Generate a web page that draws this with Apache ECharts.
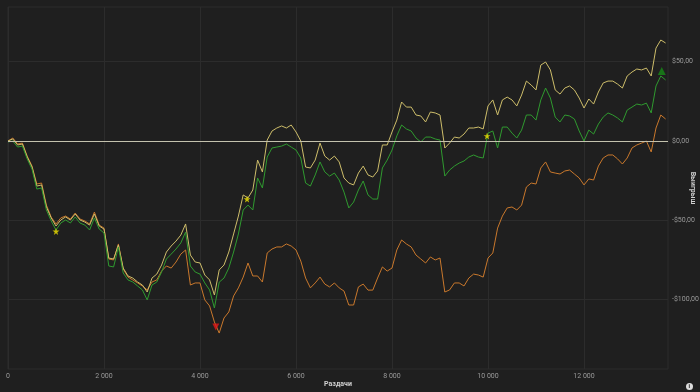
<!DOCTYPE html>
<html><head><meta charset="utf-8">
<script src="https://cdn.jsdelivr.net/npm/echarts@6/dist/echarts.min.js"></script>
<style>html,body{margin:0;padding:0;background:#1f1f1f;}#c{width:700px;height:392px;}</style>
</head><body><div id="c"></div>
<script>
const hands = [0,100,200,300,400,500,600,700,800,900,1000,1100,1200,1300,1400,1500,1600,1700,1800,1900,
2000,2100,2200,2300,2400,2500,2600,2700,2800,2900,3000,3100,3200,3300,3400,3500,3600,3700,3800,3900,
4000,4100,4200,4300,4400,4500,4600,4700,4800,4900,5000,5100,5200,5300,5400,5500,5600,5700,5800,5900,
6000,6100,6200,6300,6400,6500,6600,6700,6800,6900,7000,7100,7200,7300,7400,7500,7600,7700,7800,7900,
8000,8100,8200,8300,8400,8500,8600,8700,8800,8900,9000,9100,9200,9300,9400,9500,9600,9700,9800,9900,
10000,10100,10200,10300,10400,10500,10600,10700,10800,10900,11000,11100,11200,11300,11400,11500,11600,11700,11800,11900,
12000,12100,12200,12300,12400,12500,12600,12700,12800,12900,13000,13100,13200,13300,13400,13500,13600,13700];

// all-in EV adjusted (khaki)
const evWinnings = [0,1.3,-2.5,-1.9,-10.1,-16.4,-28.4,-27.7,-41.6,-48.5,-53.6,-49.8,-47.9,-49.8,-46.0,-49.8,-51.1,-53.0,-46.0,-53.6,
-55.5,-73.8,-74.4,-65.6,-80.1,-85.1,-86.4,-88.9,-90.8,-95.2,-86.4,-83.9,-78.2,-70.0,-66.2,-63.1,-59.3,-52.3,-71.9,-76.3,
-76.9,-84.5,-87.6,-97.1,-81.3,-78.2,-70.0,-58.6,-47.3,-34.0,-35.9,-30.9,-12.0,-19.5,0.6,6.3,8.2,9.5,8.2,10.1,
5.7,0,-16.4,-17.0,-12.0,-1.3,-9.5,-12.0,-9.5,-13.2,-23.3,-26.5,-27.7,-20.2,-15.8,-21.4,-22.7,-18.9,-2.5,-2.5,
5.7,13.2,24.6,21.4,21.4,16.4,15.8,12.0,18.3,17.7,16.4,-4.4,-1.3,2.5,1.9,4.4,8.2,8.2,8.8,7.6,
22.1,25.9,16.4,25.9,27.7,25.9,22.1,29.0,37.8,35.3,32.2,47.9,49.8,44.8,32.2,29.6,33.4,34.7,32.2,27.1,
20.8,26.5,23.3,30.9,36.6,37.8,37.8,35.9,33.4,41.0,43.5,45.4,44.8,46.0,41.0,58.6,63.7,61.8];

// net won (green)
const netWinnings = [-0.6,0,-3.8,-3.2,-11.3,-17.7,-30.3,-29.6,-43.5,-50.4,-56.1,-51.7,-49.8,-51.7,-47.9,-51.7,-53.0,-56.1,-48.5,-55.5,
-58.0,-78.8,-79.4,-66.8,-83.2,-87.6,-88.9,-91.4,-93.9,-100.2,-90.8,-88.9,-82.6,-74.4,-71.3,-68.1,-64.3,-57.4,-78.8,-82.6,
-83.9,-89.5,-93.9,-105.3,-89.0,-86.4,-80.1,-70.0,-58.6,-43.5,-40.4,-43.5,-23.3,-29.6,-10.1,-4.4,-3.8,-3.2,-1.9,-3.8,
-5.7,-10.7,-26.5,-28.4,-21.4,-13.2,-19.5,-22.1,-20.2,-24.6,-32.2,-42.2,-38.5,-30.9,-25.2,-34.0,-36.6,-36.6,-17.0,-12.0,
-5.7,3.2,10.1,7.6,6.3,1.9,-0.6,2.5,2.5,1.3,0.6,-22.1,-18.3,-15.8,-13.9,-12.6,-10.1,-8.8,-10.1,-10.7,
5.0,6.3,-4.4,8.8,8.8,5.0,1.9,6.9,16.4,16.4,13.2,25.9,33.4,27.1,15.1,12.0,16.4,15.8,13.9,6.3,
0,6.9,4.4,10.7,15.1,17.7,16.4,14.5,12.0,19.5,21.4,23.3,22.7,23.9,17.7,34.7,41.0,38.5];

// orange
const showdownWinnings = [0,1.9,-1.9,-1.3,-9.5,-15.8,-27.1,-26.5,-40.4,-48.0,-52.3,-48.5,-47.3,-49.2,-45.4,-49.2,-50.4,-52.3,-44.8,-53.0,
-54.9,-74.4,-75.0,-64.9,-80.7,-85.8,-87.6,-89.5,-91.4,-93.9,-88.9,-87.6,-82.0,-78.8,-80.1,-76.3,-71.3,-68.7,-90.8,-89.5,
-89.5,-100.2,-104.0,-114.1,-121.1,-111.6,-107.8,-97.7,-92.6,-85.8,-76.9,-85.1,-85.1,-88.9,-70.6,-68.1,-66.8,-66.8,-64.9,-66.2,
-68.7,-75.7,-86.4,-92.6,-89.5,-85.8,-90.2,-92.0,-89.5,-92.6,-94.6,-103.4,-103.4,-92.0,-90.2,-94.0,-94.0,-86.4,-79.4,-82.0,
-80.1,-68.7,-62.4,-64.9,-66.8,-71.9,-74.4,-76.9,-73.1,-75.0,-73.8,-95.2,-93.9,-89.5,-89.5,-91.4,-86.4,-83.9,-84.5,-85.8,
-73.8,-70.6,-54.9,-47.3,-42.2,-41.6,-43.5,-40.4,-29.0,-26.5,-27.1,-17.0,-13.2,-19.5,-20.2,-20.8,-18.9,-18.3,-20.8,-23.3,
-27.7,-23.9,-24.6,-15.8,-10.7,-8.8,-8.8,-11.3,-14.5,-10.7,-4.4,-2.5,-1.3,0,-6.9,8.2,16.4,13.9];

const starHands = [1000, 4980, 9980];
const starValues = [-57.0, -36.6, 3.2];
const lowHands = [4330];
const lowValues = [-117.3];
const highHands = [13620];
const highValues = [44.1];

const xTicks = [0,2000,4000,6000,8000,10000,12000];
const yTicks = [-100,-50,0,50];

const pair = (xs, ys) => xs.map((x, i) => [x, ys[i]]);
const fmtX = v => String(v).replace(/\B(?=(\d{3})+(?!\d))/g, ' ');
const fmtY = v => (v < 0 ? '-' : '') + '$' + Math.abs(v).toFixed(2).replace('.', ',');
const star = 'path://M50,0 L61,35 L98,35 L68,57 L79,91 L50,70 L21,91 L32,57 L2,35 L39,35 Z';

const chart = echarts.init(document.getElementById('c'), null, {renderer: 'canvas'});
chart.setOption({
  backgroundColor: '#1f1f1f',
  animation: false,
  grid: {left: 8, right: 32, top: 7, bottom: 23, show: true, borderColor: '#2c2c2c', borderWidth: 1,
         containLabel: false, outerBoundsMode: 'none'},
  xAxis: {
    type: 'value', min: 0, max: 13750,
    axisLine: {show: false}, axisTick: {show: false, customValues: xTicks},
    axisLabel: {customValues: xTicks, formatter: fmtX, color: '#9a9a9a', fontSize: 7, margin: 4, fontFamily: 'Roboto'},
    splitLine: {show: true, lineStyle: {color: '#2c2c2c', width: 1}}
  },
  yAxis: {
    type: 'value', position: 'right', min: -143.75, max: 84.5,
    axisLine: {show: false}, axisTick: {show: false, customValues: yTicks},
    axisLabel: {customValues: yTicks, formatter: fmtY, color: '#9a9a9a', fontSize: 7, margin: 4, fontFamily: 'Roboto'},
    splitLine: {show: true, lineStyle: {color: '#2c2c2c', width: 1}}
  },
  series: [
    {name: 'Вскрытие', type: 'line', data: pair(hands, showdownWinnings), showSymbol: false,
     lineStyle: {color: '#c9782c', width: 1}, itemStyle: {color: '#c9782c'}, z: 2,
     markLine: {silent: true, symbol: 'none', label: {show: false},
       lineStyle: {color: '#c4c2ae', width: 1, type: 'solid'}, data: [{yAxis: 0}]}},
    {name: 'EV', type: 'line', data: pair(hands, evWinnings), showSymbol: false,
     lineStyle: {color: '#cdbd6a', width: 1}, itemStyle: {color: '#cdbd6a'}, z: 3},
    {name: 'Выигрыш', type: 'line', data: pair(hands, netWinnings), showSymbol: false,
     lineStyle: {color: '#2f9a2f', width: 1}, itemStyle: {color: '#2f9a2f'}, z: 4},
    {type: 'scatter', data: pair(starHands, starValues), symbol: star, symbolSize: 7,
     itemStyle: {color: '#f2e600'}, z: 6},
    {type: 'scatter', data: pair(lowHands, lowValues), symbol: 'triangle', symbolRotate: 180, symbolSize: 7,
     itemStyle: {color: '#e01818'}, z: 6},
    {type: 'scatter', data: pair(highHands, highValues), symbol: 'triangle', symbolSize: 8,
     itemStyle: {color: '#168a16'}, z: 6}
  ],
  graphic: [
    {type: 'text', x: 338, y: 384,
     style: {text: 'Раздачи', fill: '#d0d0d0', font: 'bold 7px Roboto', align: 'center', verticalAlign: 'middle'}},
    {type: 'text', x: 693, y: 188, rotation: -Math.PI / 2,
     style: {text: 'Выигрыш', fill: '#d0d0d0', font: 'bold 7px Roboto', align: 'center', verticalAlign: 'middle'}},
    {type: 'circle', left: 686, top: 383, shape: {r: 3.5}, style: {fill: '#dcdcdc'}},
    {type: 'text', left: 688.6, top: 383.2, style: {text: 'i', fill: '#1f1f1f', font: 'bold 6px Roboto'}}
  ]
});
</script></body></html>
